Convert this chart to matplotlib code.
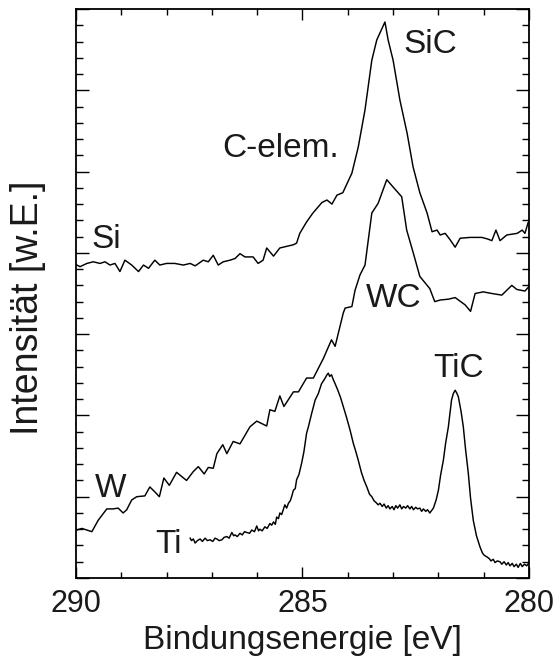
import matplotlib
matplotlib.use("Agg")
import matplotlib.pyplot as plt
from matplotlib.ticker import MultipleLocator, NullFormatter, FixedLocator

plt.rcParams['font.family'] = ['Liberation Sans', 'DejaVu Sans']

# ---- data (binding energy [eV], intensity [arb. units]) ----
si_ev = [289.98, 289.91, 289.76, 289.62, 289.47, 289.36, 289.25, 289.14, 289.03, 288.92,
         288.77, 288.62, 288.51, 288.40, 288.26, 288.15, 288.00, 287.82, 287.63, 287.48,
         287.37, 287.19, 287.08, 286.97, 286.86, 286.75, 286.60, 286.49, 286.38, 286.27,
         286.09, 285.98, 285.87, 285.79, 285.64, 285.50, 285.35, 285.20, 285.13, 285.06,
         284.91, 284.77, 284.57, 284.46, 284.35, 284.24, 284.11, 283.91, 283.77, 283.62,
         283.47, 283.36, 283.18, 283.11, 283.00, 282.85, 282.69, 282.56, 282.41, 282.25,
         282.14, 282.03, 281.96, 281.85, 281.74, 281.63, 281.52, 281.30, 281.04, 280.91,
         280.82, 280.73, 280.64, 280.49, 280.26, 280.15, 280.09, 280.02]
si_int = [3.85, 3.83, 3.87, 3.89, 3.87, 3.89, 3.85, 3.87, 3.77, 3.91,
          3.85, 3.77, 3.85, 3.81, 3.91, 3.85, 3.87, 3.87, 3.85, 3.87,
          3.84, 3.91, 3.89, 3.97, 3.85, 3.89, 3.91, 3.93, 3.99, 3.95,
          3.95, 3.87, 3.91, 4.06, 3.96, 4.06, 4.08, 4.10, 4.12, 4.24,
          4.38, 4.49, 4.62, 4.65, 4.60, 4.71, 4.74, 4.98, 5.30, 5.76,
          6.37, 6.62, 6.84, 6.62, 6.37, 5.88, 5.47, 5.06, 4.74, 4.49,
          4.26, 4.28, 4.22, 4.24, 4.16, 4.07, 4.18, 4.19, 4.19, 4.17,
          4.15, 4.28, 4.15, 4.22, 4.24, 4.28, 4.24, 4.37]

w_ev = [289.98, 289.87, 289.76, 289.65, 289.51, 289.32, 289.18, 289.07, 288.96, 288.88,
        288.77, 288.66, 288.48, 288.37, 288.26, 288.16, 288.06, 287.94, 287.78, 287.56,
        287.41, 287.30, 287.17, 287.08, 286.97, 286.89, 286.76, 286.67, 286.53, 286.38,
        286.16, 286.01, 285.79, 285.72, 285.61, 285.50, 285.41, 285.20, 285.09, 284.91,
        284.76, 284.54, 284.36, 284.28, 284.10, 284.06, 283.91, 283.84, 283.73, 283.62,
        283.47, 283.33, 283.14, 283.00, 282.81, 282.70, 282.55, 282.41, 282.19, 282.08,
        281.96, 281.78, 281.63, 281.41, 281.29, 281.19, 281.01, 280.82, 280.60, 280.38,
        280.27, 280.09, 280.01]
w_int = [0.59, 0.61, 0.59, 0.57, 0.71, 0.85, 0.85, 0.86, 0.80, 0.84,
         0.96, 1.00, 1.01, 1.12, 1.06, 1.00, 1.23, 1.14, 1.30, 1.20,
         1.31, 1.37, 1.28, 1.36, 1.35, 1.53, 1.64, 1.53, 1.68, 1.65,
         1.86, 1.93, 1.87, 2.07, 2.05, 2.24, 2.11, 2.29, 2.29, 2.46,
         2.46, 2.70, 2.93, 2.85, 3.26, 3.32, 3.34, 3.54, 3.73, 3.85,
         4.49, 4.61, 4.90, 4.81, 4.69, 4.28, 3.99, 3.71, 3.56, 3.40,
         3.42, 3.43, 3.45, 3.36, 3.28, 3.50, 3.52, 3.50, 3.48, 3.60,
         3.55, 3.53, 3.58]

ti_ev = [287.48, 287.45, 287.41, 287.37, 287.32, 287.26, 287.21, 287.15, 287.10, 287.04,
         286.98, 286.93, 286.89, 286.84, 286.78, 286.73, 286.67, 286.62, 286.56, 286.52,
         286.49, 286.44, 286.38, 286.33, 286.28, 286.23, 286.17, 286.12, 286.06, 286.01,
         285.97, 285.94, 285.89, 285.83, 285.78, 285.72, 285.68, 285.64, 285.60, 285.57,
         285.53, 285.50, 285.46, 285.42, 285.39, 285.35, 285.31, 285.27, 285.24, 285.20,
         285.16, 285.13, 285.08, 285.02, 284.97, 284.91, 284.87, 284.80, 284.72, 284.65,
         284.58, 284.51, 284.46, 284.43, 284.40, 284.36, 284.32, 284.28, 284.22, 284.16,
         284.10, 284.03, 283.95, 283.88, 283.82, 283.77, 283.70, 283.64, 283.58, 283.52,
         283.47, 283.42, 283.38, 283.33, 283.29, 283.24, 283.20, 283.15, 283.11, 283.07,
         283.02, 282.98, 282.94, 282.90, 282.85, 282.81, 282.77, 282.72, 282.68, 282.63,
         282.59, 282.55, 282.50, 282.46, 282.41, 282.37, 282.33, 282.28, 282.24, 282.19,
         282.15, 282.11, 282.05, 282.00, 281.95, 281.89, 281.84, 281.78, 281.74, 281.71,
         281.67, 281.63, 281.59, 281.56, 281.50, 281.45, 281.40, 281.34, 281.29, 281.23,
         281.16, 281.08, 281.03, 280.99, 280.93, 280.88, 280.84, 280.79, 280.75, 280.70,
         280.64, 280.60, 280.55, 280.50, 280.46, 280.42, 280.37, 280.33, 280.28, 280.24,
         280.19, 280.15, 280.10, 280.05, 280.01]
ti_int = [0.49, 0.46, 0.48, 0.43, 0.46, 0.48, 0.45, 0.49, 0.46, 0.47,
          0.45, 0.49, 0.48, 0.46, 0.47, 0.50, 0.51, 0.49, 0.56, 0.52,
          0.53, 0.51, 0.55, 0.53, 0.57, 0.56, 0.55, 0.59, 0.57, 0.64,
          0.58, 0.60, 0.58, 0.63, 0.61, 0.67, 0.65, 0.69, 0.66, 0.75,
          0.73, 0.80, 0.78, 0.85, 0.90, 0.86, 0.92, 0.95, 1.00, 1.08,
          1.10, 1.21, 1.27, 1.41, 1.55, 1.78, 1.86, 2.02, 2.19, 2.27,
          2.39, 2.45, 2.50, 2.52, 2.48, 2.50, 2.44, 2.39, 2.31, 2.22,
          2.11, 1.98, 1.82, 1.66, 1.55, 1.45, 1.30, 1.20, 1.12, 1.03,
          1.00, 0.95, 0.93, 0.90, 0.92, 0.88, 0.91, 0.86, 0.89, 0.85,
          0.88, 0.84, 0.89, 0.86, 0.90, 0.85, 0.88, 0.86, 0.89, 0.85,
          0.88, 0.84, 0.87, 0.85, 0.86, 0.82, 0.85, 0.82, 0.84, 0.80,
          0.83, 0.86, 0.96, 1.08, 1.27, 1.45, 1.66, 1.86, 2.05, 2.19,
          2.27, 2.31, 2.27, 2.23, 2.05, 1.86, 1.58, 1.29, 0.98, 0.71,
          0.52, 0.38, 0.31, 0.28, 0.26, 0.24, 0.21, 0.23, 0.19, 0.21,
          0.20, 0.17, 0.20, 0.16, 0.19, 0.15, 0.18, 0.14, 0.17, 0.13,
          0.18, 0.14, 0.17, 0.15, 0.18]

labels = ["SiC", "C-elem.", "Si", "WC", "TiC", "W", "Ti"]
label_ev = [282.78, 286.78, 289.65, 283.60, 282.12, 289.58, 288.26]
label_int = [6.46, 5.18, 4.06, 3.33, 2.47, 1.00, 0.31]

x_ticks = [290, 285, 280]
x_label = "Bindungsenergie [eV]"
y_label = "Intensität [w.E.]"

# ---- figure ----
fig = plt.figure(figsize=(5.6, 6.63), dpi=100)
ax = fig.add_axes([76 / 560, 1 - 578 / 663, 453 / 560, 569 / 663])

txt = '#1a1a1a'
for xs, ys in [(si_ev, si_int), (w_ev, w_int), (ti_ev, ti_int)]:
    ax.plot(xs, ys, color='black', lw=1.05)

for s, xv, yv in zip(labels, label_ev, label_int):
    ax.text(xv, yv, s, fontsize=24, ha='left', va='baseline', color=txt)

ax.set_xlim(290, 280)
ax.set_ylim(0, 7)
ax.xaxis.set_major_locator(FixedLocator(x_ticks))
ax.xaxis.set_minor_locator(MultipleLocator(1))
ax.yaxis.set_major_locator(MultipleLocator(1))
ax.yaxis.set_minor_locator(MultipleLocator(0.2))
ax.yaxis.set_major_formatter(NullFormatter())

ax.tick_params(axis='x', which='major', direction='in', top=True, bottom=True,
               length=8, width=1.0, labelsize=22, pad=8, labelcolor=txt)
ax.tick_params(axis='x', which='minor', direction='in', top=True, bottom=True,
               length=4.3, width=1.0)
ax.tick_params(axis='y', which='major', direction='in', left=True, right=True,
               length=9.5, width=1.0)
ax.tick_params(axis='y', which='minor', direction='in', left=True, right=True,
               length=4.8, width=1.0)
for sp in ax.spines.values():
    sp.set_linewidth(1.3)

ax.set_xlabel(x_label, fontsize=24, color=txt, labelpad=4)
ax.set_ylabel(y_label, fontsize=27, color=txt)
ax.yaxis.set_label_coords(-0.067, 0.474)

fig.savefig("out.png", dpi=100)
